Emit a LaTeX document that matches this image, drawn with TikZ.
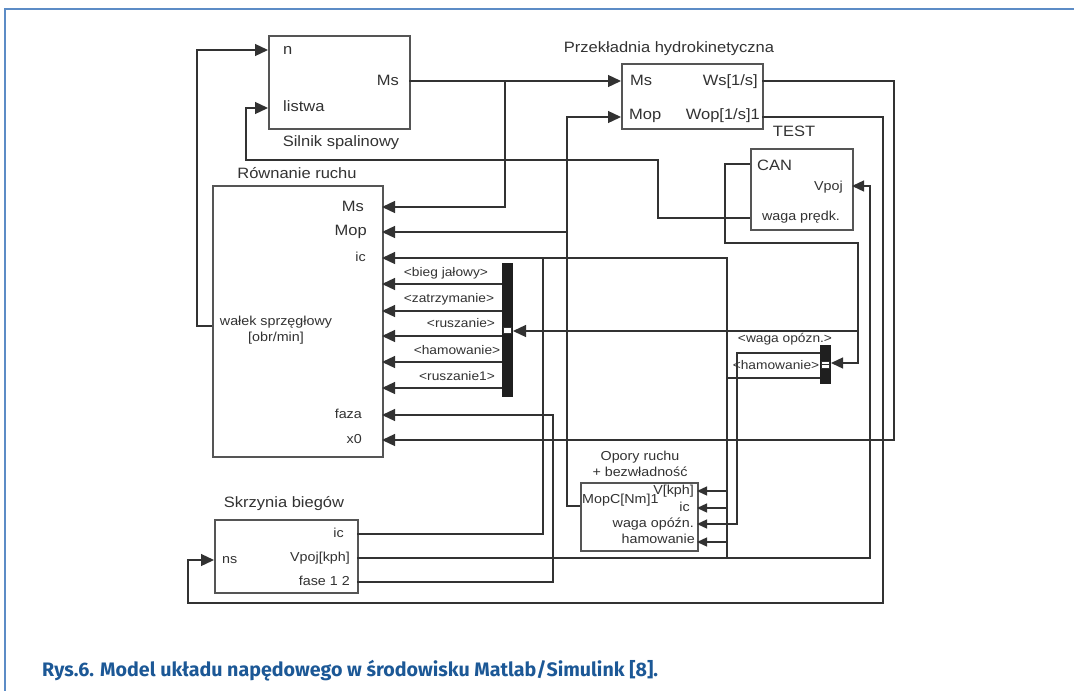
\documentclass[tikz,border=0pt]{standalone}
\usepackage{fontspec}
\usepackage{graphicx}
\setmainfont{Liberation Sans}[FakeStretch=1.1]
\newfontfamily\capfont{Fira Sans}
\usetikzlibrary{arrows.meta}
\definecolor{frameblue}{RGB}{92,140,198}
\definecolor{capblue}{RGB}{28,88,150}
\definecolor{ink}{RGB}{50,50,50}
\definecolor{edge}{RGB}{85,85,85}

\begin{document}
\begin{tikzpicture}[x=1pt,y=-1pt,
  wire/.style={draw=ink, line width=1.3pt},
  sig/.style={wire, -{Triangle[length=13pt,width=12pt]}},
  sigm/.style={wire, -{Triangle[length=12pt,width=11pt]}},
  sigs/.style={wire, -{Triangle[length=10pt,width=9pt]}},
  block/.style={draw=edge, line width=1.5pt, fill=white, anchor=north west, inner sep=0pt},
  bar/.style={fill=black!88, draw=none, anchor=north west, inner sep=0pt},
  lab/.style={inner sep=0pt, text=ink, font=\fontsize{15}{17}\selectfont, text height=11pt, text depth=3pt},
  labs/.style={inner sep=0pt, text=ink, font=\fontsize{13}{15}\selectfont, text height=9.5pt, text depth=2.6pt},
  labd/.style={inner sep=0pt, text=ink, font=\fontsize{12.5}{14}\selectfont, text height=9pt, text depth=2.5pt},
  portmark/.style={draw=ink, fill=white, line width=0.6pt, inner sep=0pt, minimum width=8pt},
]
\path[use as bounding box] (0,0) rectangle (1074,691);

% page frame
\draw[frameblue, line width=2pt] (5,691) -- (5,9) -- (1074,9);

% ---------------- blocks ----------------
\node[block, minimum width=141pt, minimum height=93pt]  (silnik) at (268,35)  {};
\node[block, minimum width=141pt, minimum height=65pt]  (przek)  at (621,63)  {};
\node[block, minimum width=102pt, minimum height=81pt]  (test)   at (750,148) {};
\node[block, minimum width=170pt, minimum height=271pt] (rown)   at (212,185) {};
\node[block, minimum width=117pt, minimum height=68pt]  (opory)  at (580,482) {};
\node[block, minimum width=143pt, minimum height=73pt]  (skrz)   at (214,519) {};
\node[bar, minimum width=11pt, minimum height=134pt] (demA) at (502,263) {};
\node[bar, minimum width=11pt, minimum height=39pt]  (demB) at (820,345) {};
\node[portmark, minimum height=6pt] (demAmark) at (507.5,330.5) {};
\node[portmark, minimum height=7pt] (demBmark) at (825.5,364.5) {};
\draw[ink, line width=0.6pt] (demBmark.west) -- (demBmark.east);

% ---------------- block titles ----------------
\node[lab] (silnikT) at (341,142) {Silnik spalinowy};
\node[lab] (przekT)  at (669,48)  {Przekładnia hydrokinetyczna};
\node[lab] (testT)   at (794,132) {TEST};
\node[lab] (rownT)   at (297,174) {Równanie ruchu};
\node[labs] (oporyT1) at (640,457) {Opory ruchu};
\node[labs] (oporyT2) at (640,473) {+ bezwładność};
\node[lab] (skrzT)   at (284,503) {Skrzynia biegów};

% ---------------- port labels ----------------
\node[lab, anchor=west] (lSn)  at (283,50)  {n};
\node[lab, anchor=west] (lSl)  at (283,107) {listwa};
\node[lab, anchor=east] (lSm)  at (399,81)  {Ms};

\node[lab, anchor=west] (lPm)  at (630,81)  {Ms};
\node[lab, anchor=west] (lPo)  at (629,115) {Mop};
\node[lab, anchor=east] (lPw)  at (758,81)  {Ws[1/s]};
\node[lab, anchor=east] (lPwo) at (760,115) {Wop[1/s]1};

\node[lab, anchor=west]  (lTc) at (757,166) {CAN};
\node[labs, anchor=east] (lTv) at (843,187) {Vpoj};
\node[labs] (lTw) at (801,217) {waga prędk.};

\node[lab, anchor=east]  (lRm)  at (364,207) {Ms};
\node[lab, anchor=east]  (lRo)  at (367,231) {Mop};
\node[labs, anchor=east] (lRi)  at (366,258) {ic};
\node[labs, anchor=east] (lRf)  at (362,415) {faza};
\node[labs, anchor=east] (lRx)  at (362,440) {x0};
\node[labs] (lRw1) at (276,322) {wałek sprzęgłowy};
\node[labs] (lRw2) at (276,338) {[obr/min]};

\node[labd] (lA1) at (446,273) {<bieg jałowy>};
\node[labd] (lA2) at (449,299) {<zatrzymanie>};
\node[labd] (lA3) at (461,324) {<ruszanie>};
\node[labd] (lA4) at (457,351) {<hamowanie>};
\node[labd] (lA5) at (457,377) {<ruszanie1>};
\node[labd] (lB1) at (785,339) {<waga opózn.>};
\node[labd] (lB2) at (776,366) {<hamowanie>};

\node[labs, anchor=east] (lOv) at (694,491) {V[kph]};
\node[labs, anchor=east] (lOi) at (690,508) {ic};
\node[labs, anchor=east] (lOw) at (694,524) {waga opóźn.};
\node[labs, anchor=east] (lOh) at (695,540) {hamowanie};
\node[labs, anchor=west] (lOm) at (582,500) {MopC[Nm]1};

\node[labs, anchor=east] (lKi) at (344,534) {ic};
\node[labs, anchor=east] (lKv) at (350,558) {Vpoj[kph]};
\node[labs, anchor=east] (lKf) at (350,582) {fase 1 2};
\node[labs, anchor=west] (lKn) at (222,560) {ns};

% ---------------- ports ----------------
\coordinate (silnik-n)      at (268,50);
\coordinate (silnik-listwa) at (268,108);
\coordinate (silnik-Ms)     at (409,81);
\coordinate (przek-Ms)      at (621,81);
\coordinate (przek-Mop)     at (621,117);
\coordinate (przek-Ws)      at (762,81);
\coordinate (przek-Wop)     at (762,117);
\coordinate (test-CAN)      at (750,164);
\coordinate (test-Vpoj)     at (852,186);
\coordinate (test-waga)     at (750,218);
\coordinate (rown-Ms)       at (382,207);
\coordinate (rown-Mop)      at (382,232);
\coordinate (rown-ic)       at (382,258);
\coordinate (rown-faza)     at (382,415);
\coordinate (rown-x0)       at (382,440);
\coordinate (rown-wal)      at (212,326);
\coordinate (demA-in)       at (513,331);
\coordinate (demB-in)       at (831,363);
\coordinate (demB-o1)       at (820,353);
\coordinate (demB-o2)       at (820,378);
\coordinate (opory-V)       at (697,491);
\coordinate (opory-ic)      at (697,508);
\coordinate (opory-waga)    at (697,524);
\coordinate (opory-ham)     at (697,542);
\coordinate (opory-MopC)    at (580,506);
\coordinate (skrz-ic)       at (357,534);
\coordinate (skrz-Vpoj)     at (357,558);
\coordinate (skrz-fase)     at (357,582);
\coordinate (skrz-ns)       at (214,560);

% routing points
\coordinate (kL1)  at (658,160);
\coordinate (kL2)  at (246,160);
\coordinate (jMs)  at (505,81);
\coordinate (jMop) at (567,232);
\coordinate (jIc)  at (543,258);
\coordinate (kIc)  at (727,258);
\coordinate (kFaza) at (553,415);
\coordinate (kWs)  at (894,440);
\coordinate (kWop) at (883,603);
\coordinate (kNs)  at (188,603);
\coordinate (kV)   at (870,558);
\coordinate (jV)   at (727,558);
\coordinate (kCan1) at (725,243);
\coordinate (kCan2) at (858,243);
\coordinate (jCan) at (858,331);
\coordinate (kW)   at (737,524);
\coordinate (kH)   at (727,542);

% ---------------- signal lines ----------------
\draw[sig] (rown-wal) -- ++(-15,0) |- (silnik-n);
\draw[sig] (test-waga) -| (kL1) -- (kL2) |- (silnik-listwa);
\draw[sig] (silnik-Ms) -- (przek-Ms);
\draw[sig] (jMs) |- (rown-Ms);
\draw[sig] (opory-MopC) -| (jMop) |- (przek-Mop);
\draw[sig] (jMop) -- (rown-Mop);
\draw[sig] (skrz-ic) -| (jIc) -- (rown-ic);
\draw[sigs] (jIc) -- (kIc) |- (opory-ic);
\draw[sig] (skrz-fase) -| (kFaza) -- (rown-faza);
\draw[sig] (przek-Ws) -| (kWs) -- (rown-x0);
\draw[sig] (przek-Wop) -| (kWop) -- (kNs) |- (skrz-ns);
\draw[sigm] (skrz-Vpoj) -- (kV) |- (test-Vpoj);
\draw[sigs] (jV) |- (opory-V);
\draw[sigm] (test-CAN) -| (kCan1) -- (kCan2) |- (demB-in);
\draw[sig] (jCan) -- (demA-in);
\draw[sigs] (demB-o1) -| (kW) -- (opory-waga);
\draw[sigs] (demB-o2) -| (kH) -- (opory-ham);
\foreach \i/\yy in {1/284,2/311,3/336,4/362,5/388}{
  \coordinate (demA-o\i) at (502,\yy);
  \coordinate (rown-d\i) at (382,\yy);
  \draw[sig] (demA-o\i) -- (rown-d\i);
}

% ---------------- caption ----------------
\node[anchor=base west, inner sep=0pt, text=capblue] (caption) at (42,676)
  {\resizebox{616pt}{\height}{\capfont\bfseries\fontsize{19.5}{21}\selectfont Rys.6. Model układu napędowego w środowisku Matlab/Simulink [8].}};
\end{tikzpicture}
\end{document}
